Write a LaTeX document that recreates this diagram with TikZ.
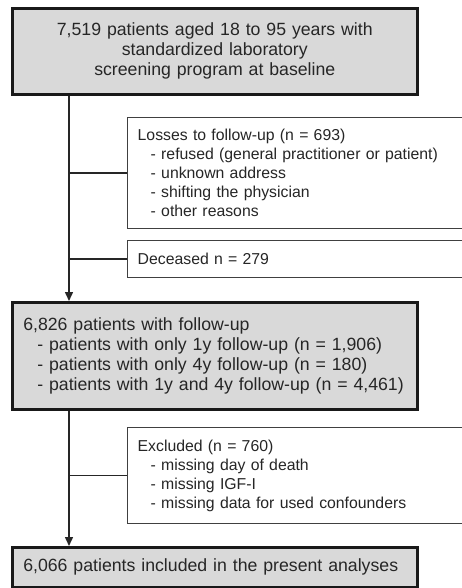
\documentclass[tikz,border=0pt]{standalone}
\usepackage{fontspec}
\setmainfont{Liberation Sans}
\usetikzlibrary{arrows.meta}
\definecolor{boxgray}{HTML}{D9D9D9}
\definecolor{txt}{HTML}{262626}
\tikzset{
  mainbox/.style={draw=black!90, line width=2.6pt, fill=boxgray, anchor=north west,
    minimum width=405pt, inner xsep=11pt, inner ysep=0pt, text width=383pt,
    text=txt, font=\fontsize{17.7}{20}\selectfont},
  sidebox/.style={draw=black!75, line width=1.4pt, fill=white, anchor=north west,
    minimum width=348pt, inner xsep=10pt, inner ysep=0pt, text width=328pt,
    align=left, text=txt, font=\fontsize{15.8}{19}\selectfont},
  flow/.style={draw=black!85, line width=1.5pt},
  flowarrow/.style={flow, -{Triangle[length=9pt,width=8pt]}}
}
\newcommand{\ind}{\hspace*{13pt}}
\begin{document}
\begin{tikzpicture}[x=1pt,y=-1pt]
\useasboundingbox (0,0) rectangle (462,588);
\clip (0,0) rectangle (462,588);
\node[mainbox, minimum height=86pt, align=center] (base) at (11,7)
  {7,519 patients aged 18 to 95 years with\\standardized laboratory\\screening program at baseline};
\node[sidebox, minimum height=111pt] (loss) at (127,117)
  {Losses to follow-up (n = 693)\\\ind- refused (general practitioner or patient)\\\ind- unknown address\\\ind- shifting the physician\\\ind- other reasons};
\node[sidebox, minimum height=37pt] (dec) at (127,240) {Deceased n = 279};
\node[mainbox, minimum height=107pt, align=left] (fu) at (11,301)
  {6,826 patients with follow-up\\\hspace*{14pt}- patients with only 1y follow-up (n = 1,906)\\\hspace*{14pt}- patients with only 4y follow-up (n = 180)\\\hspace*{14pt}- patients with 1y and 4y follow-up (n = 4,461)};
\node[sidebox, minimum height=96pt] (exc) at (127,427)
  {Excluded (n = 760)\\\ind- missing day of death\\\ind- missing IGF-I\\\ind- missing data for used confounders};
\node[mainbox, minimum height=40pt, align=left] (final) at (11,546)
  {6,066 patients included in the present analyses};
\coordinate (spine) at (69,0);
\draw[flowarrow] (base.south -| spine) -- (fu.north -| spine);
\draw[flow] (loss.west -| spine) -- (loss.west);
\draw[flow] (dec.west -| spine) -- (dec.west);
\draw[flowarrow] (fu.south -| spine) -- (final.north -| spine);
\draw[flow] (exc.west -| spine) -- (exc.west);
\end{tikzpicture}
\end{document}
